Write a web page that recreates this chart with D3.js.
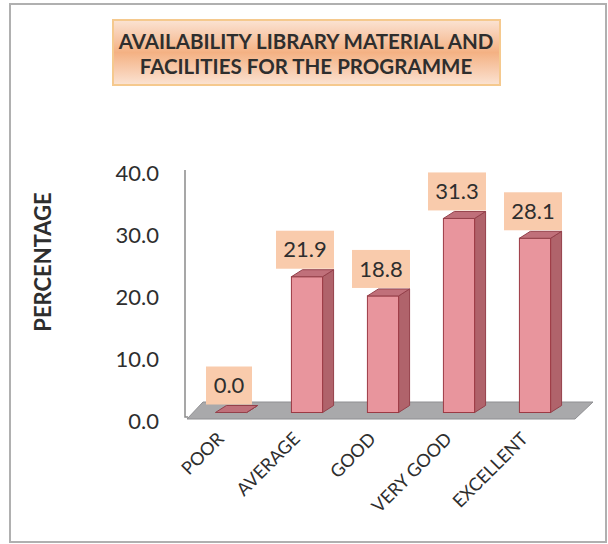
<!DOCTYPE html>
<html>
<head>
<meta charset="utf-8">
<script src="https://cdn.jsdelivr.net/npm/d3@7"></script>
<style>
  body { margin: 0; background: #fff; }
  text { font-family: Lato, "Open Sans", sans-serif; fill: #2e2e2e; }
</style>
</head>
<body>
<div id="chart"></div>
<script>
// 3d-ish column chart, library material ratings

var categories = ["POOR", "AVERAGE", "GOOD", "VERY GOOD", "EXCELLENT"];
var values = [0.0, 21.9, 18.8, 31.3, 28.1];
var yTicks = [0, 10, 20, 30, 40];
var titleLines = ["AVAILABILITY LIBRARY MATERIAL AND", "FACILITIES FOR THE PROGRAMME"];

var width = 608,
    height = 544;

var svg = d3.select("#chart").append("svg")
    .attr("width", width)
    .attr("height", height);

// outer frame
svg.append("rect")
    .attr("x", 10).attr("y", 4)
    .attr("width", 596).attr("height", 538)
    .attr("fill", "white")
    .attr("stroke", "#b0b0b0")
    .attr("stroke-width", 2);

// title box
var grad = svg.append("defs").append("linearGradient")
    .attr("id", "tgrad").attr("x1", 0).attr("y1", 0).attr("x2", 0).attr("y2", 1);
grad.append("stop").attr("offset", "0%").attr("stop-color", "#fbe3d3");
grad.append("stop").attr("offset", "50%").attr("stop-color", "#f4b183");
grad.append("stop").attr("offset", "100%").attr("stop-color", "#fbe3d3");

svg.append("rect")
    .attr("x", 113).attr("y", 20)
    .attr("width", 387).attr("height", 65)
    .attr("fill", "url(#tgrad)")
    .attr("stroke", "#f5c98e")
    .attr("stroke-width", 2);

svg.selectAll(".title")
    .data(titleLines)
    .enter().append("text")
    .attr("class", "title")
    .attr("x", 306)
    .attr("y", function(d, i) { return 49 + i * 25; })
    .attr("text-anchor", "middle")
    .attr("font-size", 20.5)
    .attr("font-weight", "bold")
    .text(function(d) { return d; });

// scales
var y = d3.scaleLinear().domain([0, 40]).range([418, 170]);
var x = d3.scaleBand().domain(categories).range([193, 573]).paddingInner(0.59).paddingOuter(0.295);

var dx = 11, dy = -7;      // bar depth
var shift = -5.5;          // bars sit a bit into the floor

// floor
svg.append("path")
    .attr("d", "M187,419 L203,402 L593,402 L575,419 Z")
    .attr("fill", "#a9a9ab")
    .attr("stroke", "#8f8f92")
    .attr("stroke-width", 1);

// y axis line
svg.append("path")
    .attr("d", "M185,170 L185,417 L188,417")
    .attr("fill", "none")
    .attr("stroke", "#8a8a8a")
    .attr("stroke-width", 1.5);

svg.selectAll(".ytick")
    .data(yTicks)
    .enter().append("text")
    .attr("class", "ytick")
    .attr("x", 159)
    .attr("y", function(d) { return y(d) + 3; })
    .attr("dy", "0.35em")
    .attr("text-anchor", "end")
    .attr("font-size", 22)
    .text(function(d) { return d3.format(".1f")(d); });

svg.append("text")
    .attr("transform", "translate(51,262) rotate(-90)")
    .attr("text-anchor", "middle")
    .attr("font-size", 22)
    .attr("font-weight", "bold")
    .text("PERCENTAGE");

// bars
var bars = svg.selectAll(".bar")
    .data(values)
    .enter().append("g")
    .attr("class", "bar");

function x0(d, i) { return x(categories[i]); }
function x1(d, i) { return x(categories[i]) + x.bandwidth(); }
function barTop(d) { return y(d) + shift; }
var base = y(0) + shift;

// side face
bars.append("path")
    .attr("d", function(d, i) {
        return "M" + x1(d, i) + "," + base +
               " L" + (x1(d, i) + dx) + "," + (base + dy) +
               " L" + (x1(d, i) + dx) + "," + (barTop(d) + dy) +
               " L" + x1(d, i) + "," + barTop(d) + " Z";
    })
    .attr("fill", "#b0636b")
    .attr("stroke", "#94404a")
    .attr("stroke-width", 1);

// front face
bars.append("rect")
    .attr("x", x0)
    .attr("y", function(d) { return barTop(d); })
    .attr("width", x.bandwidth())
    .attr("height", function(d) { return base - barTop(d); })
    .attr("fill", "#e8959d")
    .attr("stroke", "#9c3a44")
    .attr("stroke-width", 1);

// top face
bars.append("path")
    .attr("d", function(d, i) {
        return "M" + x0(d, i) + "," + barTop(d) +
               " L" + (x0(d, i) + dx) + "," + (barTop(d) + dy) +
               " L" + (x1(d, i) + dx) + "," + (barTop(d) + dy) +
               " L" + x1(d, i) + "," + barTop(d) + " Z";
    })
    .attr("fill", "#c0707a")
    .attr("stroke", "#94404a")
    .attr("stroke-width", 1);

// value labels
var lab = svg.selectAll(".lab")
    .data(values)
    .enter().append("g")
    .attr("class", "lab")
    .attr("transform", function(d, i) {
        return "translate(" + (x(categories[i]) + x.bandwidth() / 2 - 2) + "," + (barTop(d) - 8) + ")";
    });

lab.append("rect")
    .attr("x", function(d) { return d < 10 ? -23 : -29; })
    .attr("y", -38)
    .attr("width", function(d) { return d < 10 ? 46 : 58; })
    .attr("height", 38)
    .attr("fill", "#f9cbac");

lab.append("text")
    .attr("y", -19)
    .attr("dy", "0.35em")
    .attr("text-anchor", "middle")
    .attr("font-size", 22)
    .text(function(d) { return d3.format(".1f")(d); });

// category labels
svg.selectAll(".cat")
    .data(categories)
    .enter().append("text")
    .attr("class", "cat")
    .attr("transform", function(d) {
        return "translate(" + (x(d) + x.bandwidth() / 2 - 6) + ",440) rotate(-45)";
    })
    .attr("text-anchor", "end")
    .attr("font-size", 18)
    .text(function(d) { return d; });
</script>
</body>
</html>
